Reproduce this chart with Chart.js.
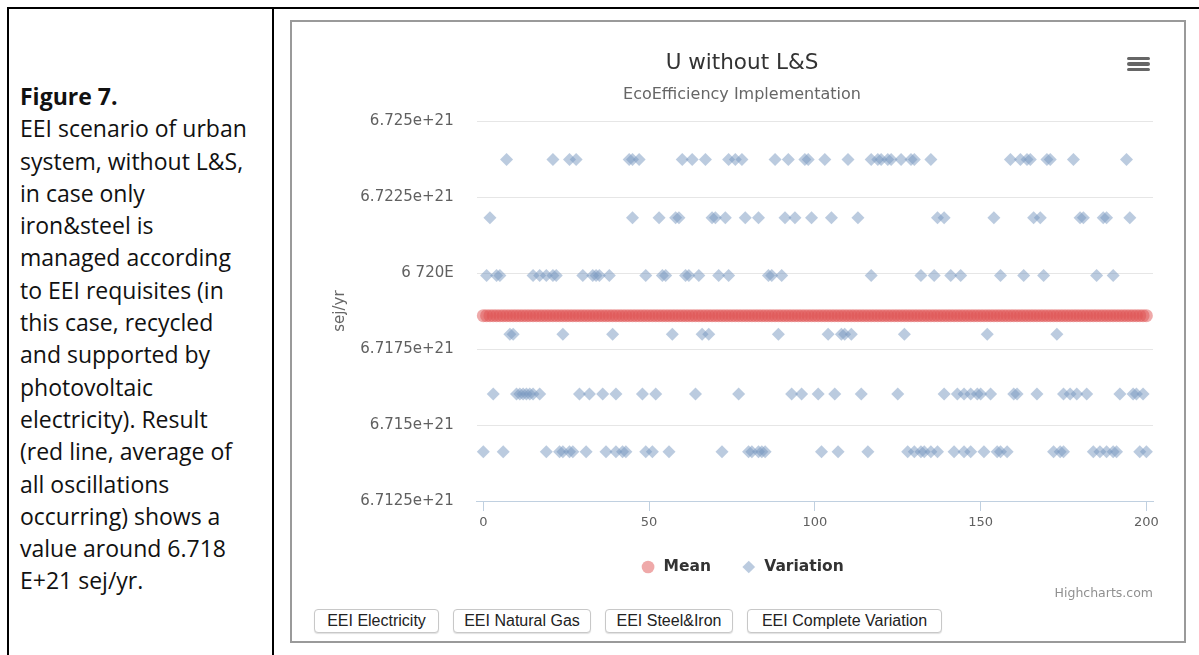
<!DOCTYPE html>
<html>
<head>
<meta charset="utf-8">
<script src="https://cdn.jsdelivr.net/npm/chart.js@4.4.0/dist/chart.umd.min.js"></script>
<style>
  html, body { margin:0; padding:0; background:#fff; }
  body { width:1199px; height:655px; position:relative; overflow:hidden; }
  .tline { position:absolute; background:#000; }
  #caption { position:absolute; left:20px; top:80px; font-family:"Open Sans", sans-serif; font-size:23px; line-height:32.3px; color:#111; white-space:nowrap; }
  #caption b { font-weight:700; }
  #box { position:absolute; left:290px; top:20px; width:896px; height:623px; border:2px solid #9a9a9a; box-sizing:border-box; }
  #cv { position:absolute; left:292px; top:22px; }
  .ham { position:absolute; left:1127px; width:23px; height:3.5px; background:#666; border-radius:2px; }
  #credits { position:absolute; right:calc(1199px - 1153px); top:585px; font-family:"DejaVu Sans", sans-serif; font-size:12.5px; color:#909090; }
  .btn { position:absolute; top:609px; height:24px; box-sizing:border-box; border:1px solid #c8c8c8; border-radius:4px; background:#fff; box-shadow:0 1px 1px rgba(0,0,0,0.12); font-family:"Liberation Sans", Arial, sans-serif; font-size:16px; color:#222; line-height:22px; text-align:center; white-space:nowrap; }
</style>
</head>
<body>
<div class="tline" style="left:7px; top:7px; width:1192px; height:2px;"></div>
<div class="tline" style="left:7px; top:7px; width:2px; height:648px;"></div>
<div class="tline" style="left:272px; top:7px; width:2px; height:648px;"></div>

<div id="caption"><b>Figure 7.</b><br>EEI scenario of urban<br>system, without L&amp;S,<br>in case only<br>iron&amp;steel is<br>managed according<br>to EEI requisites (in<br>this case, recycled<br>and supported by<br>photovoltaic<br>electricity). Result<br>(red line, average of<br>all oscillations<br>occurring) shows a<br>value around 6.718<br>E+21 sej/yr.</div>

<div id="box"></div>
<canvas id="cv" width="892" height="570"></canvas>
<div class="ham" style="top:56.5px;"></div>
<div class="ham" style="top:62px;"></div>
<div class="ham" style="top:67.5px;"></div>
<div id="credits">Highcharts.com</div>

<div class="btn" style="left:314px; width:125px;">EEI Electricity</div>
<div class="btn" style="left:453px; width:138px;">EEI Natural Gas</div>
<div class="btn" style="left:605px; width:128px;">EEI Steel&amp;Iron</div>
<div class="btn" style="left:747px; width:195px;">EEI Complete Variation</div>

<script>
// ---- data ----
const chartTitle = 'U without L&S';
const chartSubtitle = 'EcoEfficiency Implementation';
const yAxisTitle = 'sej/yr';
const legendNames = ['Mean', 'Variation'];

const yTickValues = [6.7125e21, 6.715e21, 6.7175e21, 6.72e21, 6.7225e21, 6.725e21];
const yTickLabels = ['6.7125e+21', '6.715e+21', '6.7175e+21', '6 720E', '6.7225e+21', '6.725e+21'];
const xTickValues = [0, 50, 100, 150, 200];

// iterations 0..200 (x domain)
const iterations = Array.from({length: 201}, (_, i) => i);
// mean of all oscillations (constant across iterations)
const meanValue = 6.71860e21;

// variation: discrete levels and the iterations that fall on each level
const variationLevels = [6.72374e21, 6.72182e21, 6.71992e21, 6.71799e21, 6.71602e21, 6.71412e21];
const levelA = [7, 21, 26, 28, 44, 45, 47, 60, 63, 67, 74, 76, 78, 88, 92, 97, 98, 103, 110, 117, 119, 120, 122, 123, 126, 129, 130, 135, 159, 162, 164, 165, 170, 171, 178, 194];
const levelB = [2, 45, 53, 58, 59, 69, 70, 73, 79, 83, 91, 94, 99, 105, 113, 137, 139, 154, 166, 168, 180, 181, 187, 188, 195];
const levelC = [1, 4, 5, 15, 17, 19, 21, 22, 30, 33, 34, 35, 38, 49, 54, 55, 61, 62, 65, 71, 74, 86, 87, 90, 117, 132, 136, 141, 144, 156, 163, 169, 185, 190];
const levelD = [8, 9, 24, 39, 57, 66, 68, 89, 104, 108, 109, 111, 127, 152, 173];
const levelE = [3, 10, 11, 12, 13, 14, 15, 17, 29, 32, 36, 40, 48, 52, 64, 77, 93, 96, 101, 106, 114, 125, 139, 143, 145, 147, 149, 150, 153, 160, 161, 167, 175, 177, 179, 182, 192, 196, 197, 199];
const levelF = [0, 6, 19, 23, 24, 26, 27, 31, 37, 40, 42, 43, 49, 51, 56, 72, 80, 81, 83, 84, 85, 102, 107, 116, 128, 130, 132, 133, 135, 137, 142, 145, 147, 151, 155, 156, 158, 172, 174, 175, 184, 186, 188, 190, 191, 198, 200];
const levelIterations = [levelA, levelB, levelC, levelD, levelE, levelF];

// ---- build datasets ----
const meanPoints = iterations.map(i => ({x: i, y: meanValue}));
const variationPoints = [];
levelIterations.forEach((list, k) => list.forEach(i => variationPoints.push({x: i, y: variationLevels[k]})));

Chart.defaults.font.family = '"DejaVu Sans", sans-serif';

new Chart(document.getElementById('cv'), {
  type: 'scatter',
  data: {
    datasets: [
      {
        label: legendNames[0],
        data: meanPoints,
        pointStyle: 'circle',
        pointRadius: 6.5,
        backgroundColor: 'rgba(223,83,83,0.5)',
        borderWidth: 0,
        clip: false
      },
      {
        label: legendNames[1],
        data: variationPoints,
        pointStyle: 'rectRot',
        pointRadius: 6.5,
        backgroundColor: 'rgba(119,152,191,0.5)',
        borderWidth: 0,
        clip: false
      }
    ]
  },
  options: {
    responsive: false,
    animation: false,
    devicePixelRatio: 1,
    events: [],
    layout: { padding: { left: 39, right: 31, top: 0, bottom: 7.25 } },
    plugins: {
      tooltip: { enabled: false },
      title: {
        display: true, text: chartTitle, color: '#333333',
        font: { size: 21.5, weight: 'normal' },
        padding: { top: 28.4, bottom: 0 }
      },
      subtitle: {
        display: true, text: chartSubtitle, color: '#666666',
        font: { size: 16, weight: 'normal' },
        padding: { top: 9.4, bottom: 16.4 }
      },
      legend: {
        display: true, position: 'bottom',
        labels: {
          usePointStyle: true, boxHeight: 9, padding: 30,
          color: '#333333', font: { size: 15.5, weight: 'bold' }
        }
      }
    },
    scales: {
      x: {
        type: 'linear', min: -2, max: 202,
        afterBuildTicks: s => { s.ticks = xTickValues.map(v => ({value: v})); },
        afterFit: s => { s.height = 28.25; },
        grid: { drawOnChartArea: false, drawTicks: true, tickLength: 10, color: '#C0D0E0' },
        border: { display: true, color: '#C0D0E0', width: 1 },
        ticks: { color: '#606060', font: { size: 13 }, padding: 4, maxRotation: 0 }
      },
      y: {
        type: 'linear', min: 6.7125e21, max: 6.725e21,
        afterBuildTicks: s => { s.ticks = yTickValues.map(v => ({value: v})); },
        afterFit: s => { s.width = 145.7; },
        grid: { color: '#E6E6E6', drawTicks: false, lineWidth: 1 },
        border: { display: false },
        ticks: { color: '#606060', font: { size: 15 }, padding: 23,
                 callback: (v, i) => yTickLabels[i] },
        title: { display: true, text: yAxisTitle, color: '#666666', font: { size: 15 }, padding: { top: 0, bottom: 0 } }
      }
    }
  }
});
</script>
</body>
</html>
